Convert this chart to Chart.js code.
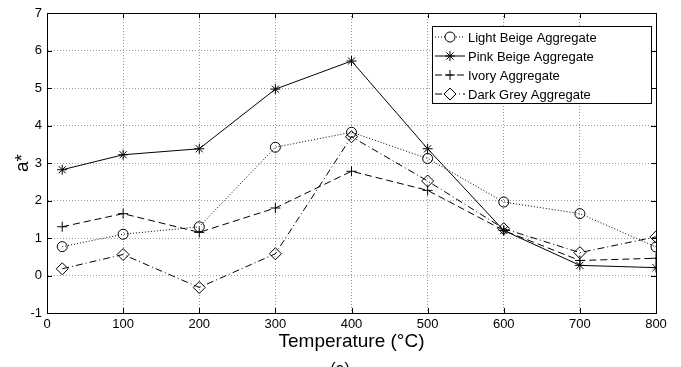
<!DOCTYPE html>
<html>
<head>
<meta charset="utf-8">
<script src="https://cdn.jsdelivr.net/npm/chart.js@4.4.1/dist/chart.umd.min.js"></script>
<style>
  html, body { margin: 0; padding: 0; background: #fff; }
  #wrap { width: 681px; height: 367px; }
</style>
</head>
<body>
<div id="wrap"><canvas id="myChart" width="681" height="367"></canvas></div>
<script>
// temperatures (°C)
let temps = [20, 100, 200, 300, 400, 500, 600, 700, 800]

let lightBeige = [0.77, 1.10, 1.30, 3.42, 3.82, 3.12, 1.96, 1.65, 0.76]
let pinkBeige = [2.82, 3.22, 3.38, 4.97, 5.72, 3.38, 1.20, 0.27, 0.21]
let ivory = [1.30, 1.65, 1.15, 1.80, 2.78, 2.27, 1.20, 0.40, 0.46]
let darkGrey = [0.18, 0.56, -0.32, 0.58, 3.70, 2.52, 1.25, 0.61, 1.03]

let seriesNames = ['Light Beige Aggregate', 'Pink Beige Aggregate', 'Ivory Aggregate', 'Dark Grey Aggregate']

const FONT = "'Liberation Sans', Arial, sans-serif"

function pts(vals) {
    return vals.map((v, i) => ({ x: temps[i], y: v }))
}

// box round the plot + little inner ticks, like matlab
const boxPlugin = {
    id: 'box',
    afterDraw(chart) {
        const ctx = chart.ctx
        const a = chart.chartArea
        const xs = chart.scales.x
        const ys = chart.scales.y
        ctx.save()
        ctx.strokeStyle = '#000'
        ctx.lineWidth = 1
        ctx.setLineDash([])
        ctx.strokeRect(Math.round(a.left) + 0.5, Math.round(a.top) + 0.5, Math.round(a.right - a.left), Math.round(a.bottom - a.top))
        ctx.beginPath()
        xs.ticks.forEach(t => {
            let px = Math.round(xs.getPixelForValue(t.value)) + 0.5
            ctx.moveTo(px, a.bottom); ctx.lineTo(px, a.bottom - 5)
            ctx.moveTo(px, a.top); ctx.lineTo(px, a.top + 5)
        })
        ys.ticks.forEach(t => {
            let py = Math.round(ys.getPixelForValue(t.value)) + 0.5
            ctx.moveTo(a.left, py); ctx.lineTo(a.left + 5, py)
            ctx.moveTo(a.right, py); ctx.lineTo(a.right - 5, py)
        })
        ctx.stroke()
        // "(a)" caption cut at the bottom
        ctx.fillStyle = '#000'
        ctx.font = '16px ' + FONT
        ctx.textAlign = 'center'
        ctx.textBaseline = 'top'
        ctx.fillText('(a)', 340, 362)
        ctx.restore()
    }
}

// legend drawn inside the plot
const boxLegend = {
    id: 'boxLegend',
    afterDraw(chart) {
        const ctx = chart.ctx
        const x0 = 432, y0 = 26, w = 219, h = 77
        ctx.save()
        ctx.fillStyle = '#fff'
        ctx.fillRect(x0, y0, w, h)
        ctx.strokeStyle = '#000'
        ctx.lineWidth = 1
        ctx.strokeRect(x0 + 0.5, y0 + 0.5, w, h)
        chart.data.datasets.forEach((ds, i) => {
            let y = y0 + 11 + i * 19
            ctx.strokeStyle = '#000'
            ctx.lineWidth = ds.borderWidth
            ctx.setLineDash(ds.borderDash || [])
            ctx.beginPath()
            ctx.moveTo(x0 + 3, y)
            ctx.lineTo(x0 + 33, y)
            ctx.stroke()
            ctx.setLineDash([])
            ctx.fillStyle = '#fff'
            ctx.lineWidth = 1
            Chart.helpers.drawPoint(ctx, { pointStyle: ds.pointStyle, radius: ds.pointRadius, rotation: 0, borderWidth: 1 }, x0 + 18, y)
            ctx.fillStyle = '#000'
            ctx.font = '13px ' + FONT
            ctx.textAlign = 'left'
            ctx.textBaseline = 'middle'
            ctx.fillText(ds.label, x0 + 36, y + 1)
        })
        ctx.restore()
    }
}

function lineSet(label, vals, dash, style, r) {
    return {
        label: label,
        data: pts(vals),
        borderColor: '#000',
        borderWidth: 1,
        borderDash: dash,
        pointStyle: style,
        pointRadius: r,
        pointHoverRadius: r,
        pointBorderColor: '#000',
        pointBackgroundColor: 'rgba(255,255,255,0)',
        pointBorderWidth: 1,
        fill: false,
        tension: 0
    }
}

let grafico = new Chart('myChart', {
    type: 'line',
    data: {
        datasets: [
            lineSet(seriesNames[0], lightBeige, [1, 2], 'circle', 5),
            lineSet(seriesNames[1], pinkBeige, [], 'star', 5),
            lineSet(seriesNames[2], ivory, [7, 4], 'cross', 5),
            lineSet(seriesNames[3], darkGrey, [7, 3, 1, 3], 'rectRot', 6)
        ]
    },
    options: {
        responsive: false,
        animation: false,
        layout: { padding: { left: 0, right: 25, top: 13, bottom: 0 } },
        plugins: {
            legend: { display: false },
            tooltip: { enabled: false }
        },
        scales: {
            x: {
                type: 'linear',
                min: 0,
                max: 800,
                ticks: { stepSize: 100, color: '#000', font: { family: FONT, size: 13 }, padding: 4, maxRotation: 0 },
                grid: { color: '#999', drawTicks: false },
                border: { color: '#000', dash: [1, 2] },
                title: { display: true, text: 'Temperature (°C)', color: '#000', font: { family: FONT, size: 19 }, padding: { top: 2, bottom: 14 } },
                afterFit(s) { s.height = 54 }
            },
            y: {
                min: -1,
                max: 7,
                ticks: { stepSize: 1, color: '#000', font: { family: FONT, size: 13 }, padding: 5 },
                grid: { color: '#999', drawTicks: false },
                border: { color: '#000', dash: [1, 2] },
                title: { display: true, text: 'a*', color: '#000', font: { family: FONT, size: 19 }, padding: { top: 11, bottom: 2 } },
                afterFit(s) { s.width = 47 }
            }
        }
    },
    plugins: [boxPlugin, boxLegend]
})
</script>
</body>
</html>
